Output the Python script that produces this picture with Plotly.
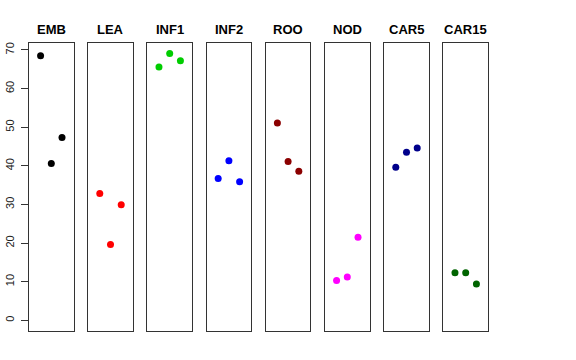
import plotly.graph_objects as go

panels = ["EMB", "LEA", "INF1", "INF2", "ROO", "NOD", "CAR5", "CAR15"]
colors = ["#000000", "#FF0000", "#00CD00", "#0000FF", "#8B0000", "#FF00FF", "#00008B", "#006400"]
positions = [1, 2, 3]
values = {
    "EMB":   [68.5, 40.6, 47.3],
    "LEA":   [32.8, 19.6, 29.9],
    "INF1":  [65.6, 69.1, 67.2],
    "INF2":  [36.7, 41.3, 35.9],
    "ROO":   [51.1, 41.1, 38.6],
    "NOD":   [10.3, 11.2, 21.5],
    "CAR5":  [39.6, 43.5, 44.6],
    "CAR15": [12.3, 12.3, 9.4],
}
yticks = [0, 10, 20, 30, 40, 50, 60, 70]

W, H = 576, 360
left0 = 29.0
pw = 44.6
step = 59.2
ytop, ybot = 43, 331

fig = go.Figure()
layout = dict(
    width=W, height=H, margin=dict(l=0, r=0, t=0, b=0, autoexpand=False),
    paper_bgcolor="white", plot_bgcolor="white", showlegend=False,
    font=dict(family="Liberation Sans, Arial, sans-serif", color="#000000"),
)
annotations = []
for i, name in enumerate(panels):
    x0 = left0 + i * step
    x1 = x0 + pw
    xa = "xaxis" if i == 0 else f"xaxis{i+1}"
    ya = "yaxis" if i == 0 else f"yaxis{i+1}"
    xr = "x" if i == 0 else f"x{i+1}"
    yr = "y" if i == 0 else f"y{i+1}"
    fig.add_trace(go.Scatter(
        x=positions, y=values[name], mode="markers", xaxis=xr, yaxis=yr,
        marker=dict(color=colors[i], size=7, line=dict(width=0)),
        hoverinfo="skip",
    ))
    layout[xa] = dict(domain=[x0 / W, x1 / W], range=[-0.08, 4.08], anchor=yr,
                      showgrid=False, zeroline=False, showticklabels=False, ticks="",
                      showline=True, mirror=True, linecolor="#333333", linewidth=1,
                      fixedrange=True, automargin=False)
    ydict = dict(domain=[1 - ybot / H, 1 - ytop / H], range=[-2.77, 71.8], anchor=xr,
                 showgrid=False, zeroline=False,
                 showline=True, mirror=True, linecolor="#333333", linewidth=1,
                 fixedrange=True, automargin=False)
    if i == 0:
        ydict.update(tickvals=yticks, ticktext=[str(v) for v in yticks],
                     ticks="outside", ticklen=7, tickwidth=1, tickcolor="#333333",
                     tickangle=-90, tickfont=dict(size=11, color="#222222"),
                     ticklabelstandoff=3)
    else:
        ydict.update(showticklabels=False, ticks="")
    layout[ya] = ydict
    annotations.append(dict(
        text=f"<b>{name}</b>", x=(x0 + x1) / 2 / W, y=1 - 29 / H,
        xref="paper", yref="paper", showarrow=False,
        xanchor="center", yanchor="middle",
        font=dict(size=13, color="#000000"),
    ))
layout["annotations"] = annotations
fig.update_layout(**layout)
fig.write_html("out.html", config={"displayModeBar": False, "staticPlot": True},
               post_script="document.body.style.margin='0';")
